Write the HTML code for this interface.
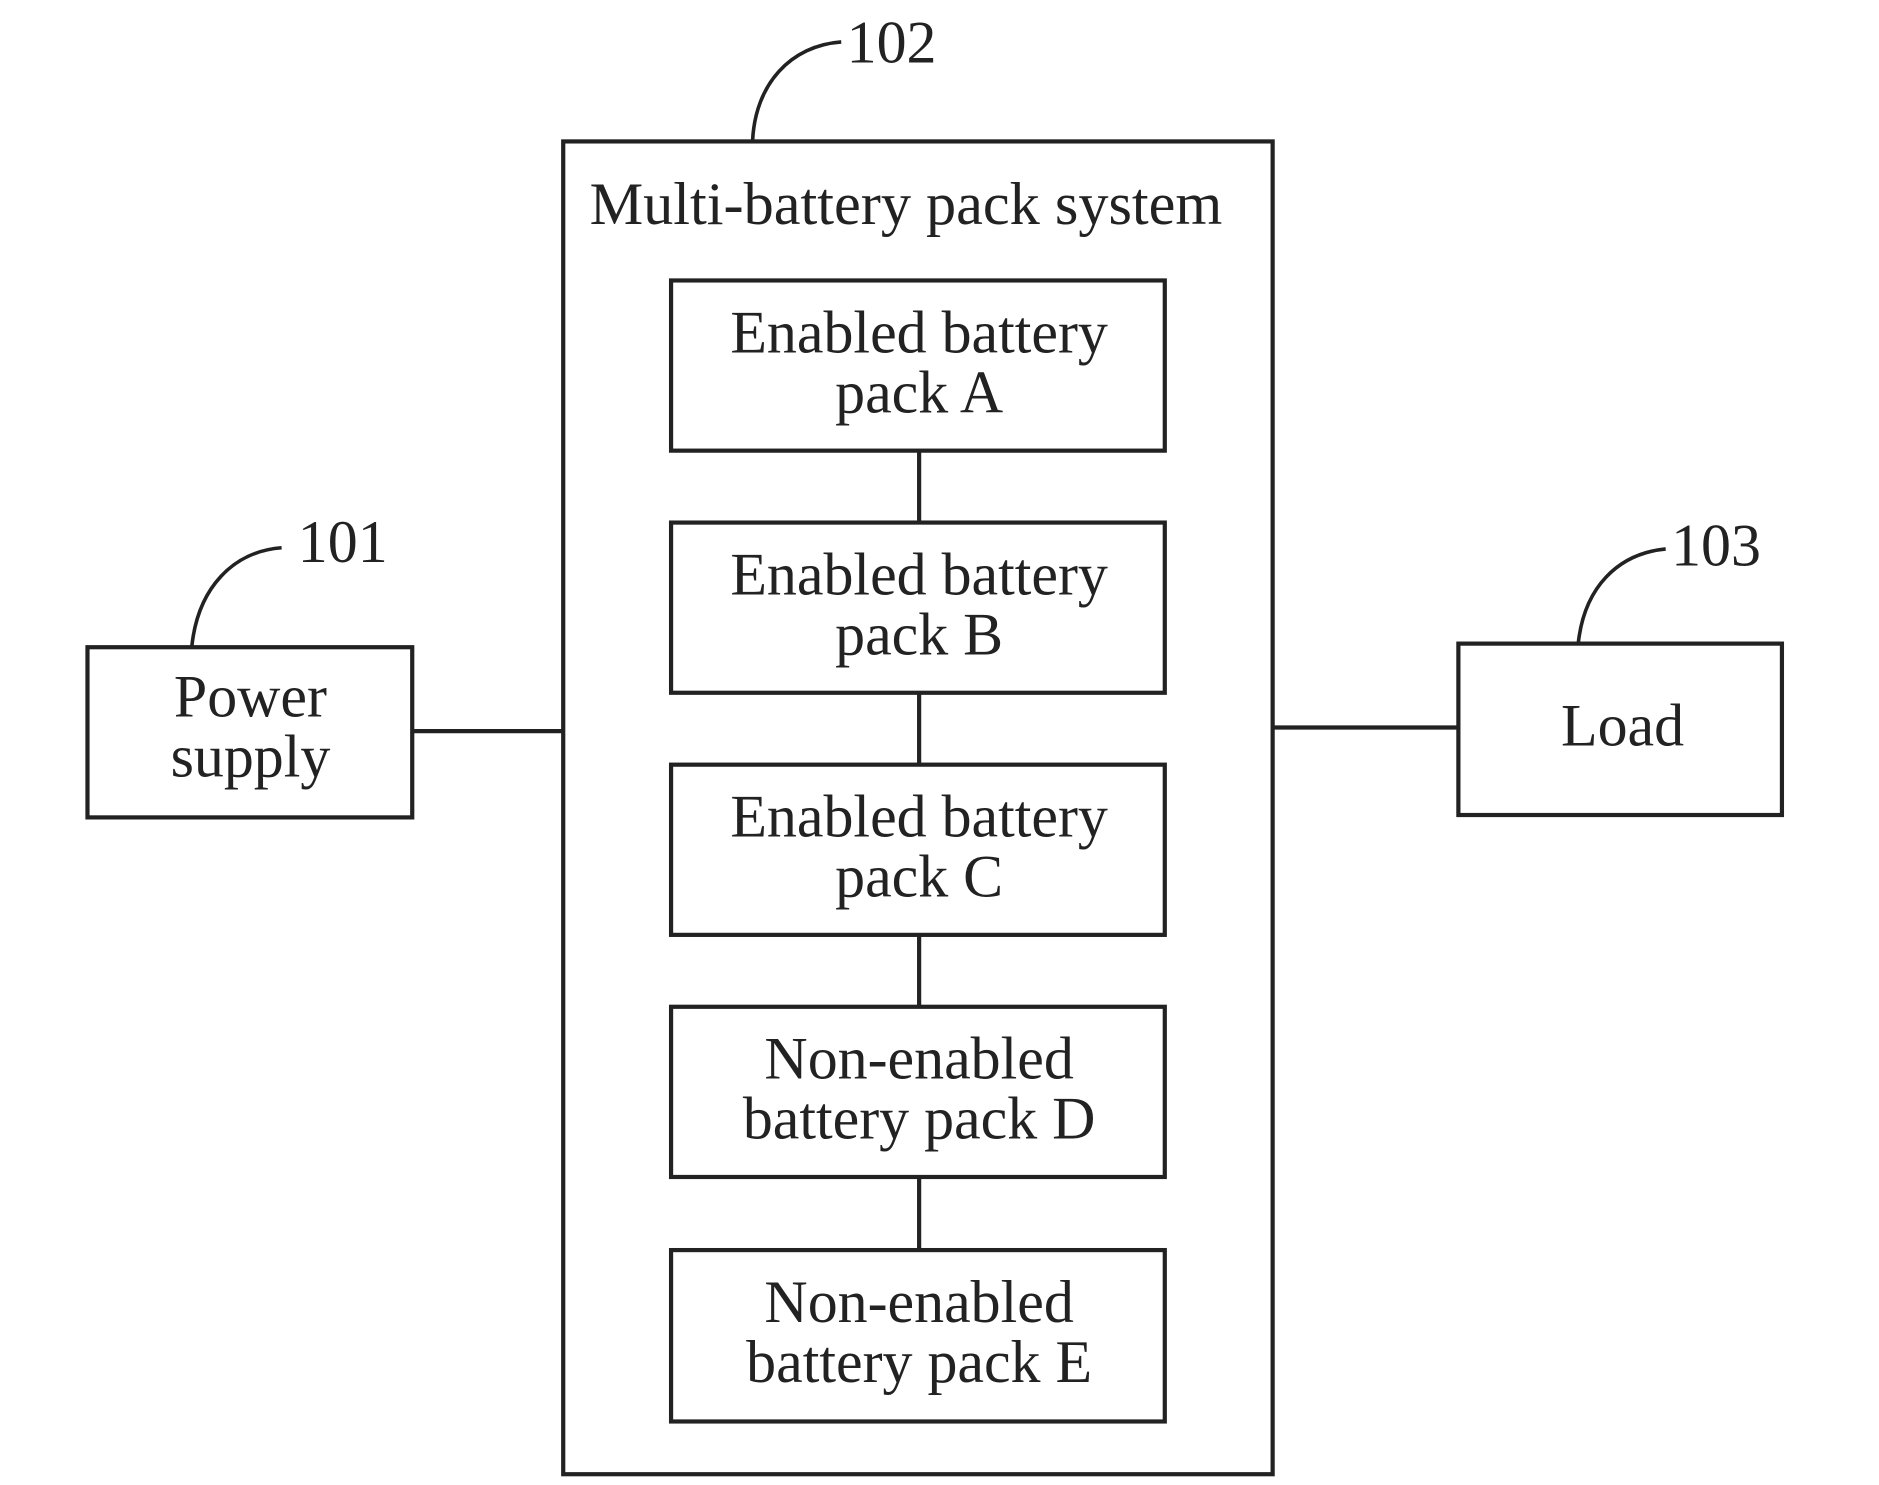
<!DOCTYPE html>
<html><head><meta charset="utf-8"><style>html,body{margin:0;padding:0;background:#fff}svg{display:block}</style></head>
<body>
<svg width="1879" height="1485" viewBox="0 0 1568 1239" preserveAspectRatio="none" xmlns="http://www.w3.org/2000/svg" font-family="Liberation Serif, serif" fill="none" stroke="#222" stroke-width="3.5">
<rect x="470" y="118" width="592" height="1112"/>
<rect x="560" y="234" width="412" height="142"/>
<rect x="560" y="436" width="412" height="142"/>
<rect x="560" y="638" width="412" height="142"/>
<rect x="560" y="840" width="412" height="142"/>
<rect x="560" y="1043" width="412" height="143"/>
<line x1="767" y1="376" x2="767" y2="436"/>
<line x1="767" y1="578" x2="767" y2="638"/>
<line x1="767" y1="780" x2="767" y2="840"/>
<line x1="767" y1="982" x2="767" y2="1043"/>
<rect x="73" y="540" width="271" height="142"/>
<rect x="1217" y="537" width="270" height="143"/>
<line x1="344" y1="610" x2="470" y2="610"/>
<line x1="1062" y1="607" x2="1217" y2="607"/>
<path d="M628 118 C630 70 660 38 702 35" stroke-width="3"/>
<path d="M160 540 C165 490 195 460 235 457" stroke-width="3"/>
<path d="M1317 537 C1322 490 1350 462 1390 458" stroke-width="3"/>
<g fill="#222" stroke="none" font-size="50" text-anchor="middle">
<text x="756" y="187" textLength="528" lengthAdjust="spacingAndGlyphs">Multi-battery pack system</text>
<text x="767" y="294">Enabled battery</text><text x="767" y="344">pack A</text>
<text x="767" y="496">Enabled battery</text><text x="767" y="546">pack B</text>
<text x="767" y="698">Enabled battery</text><text x="767" y="748">pack C</text>
<text x="767" y="900">Non-enabled</text><text x="767" y="950">battery pack D</text>
<text x="767" y="1103">Non-enabled</text><text x="767" y="1153">battery pack E</text>
<text x="209" y="598">Power</text><text x="209" y="648">supply</text>
<text x="1354" y="622">Load</text>
<text x="744" y="52">102</text>
<text x="286" y="469">101</text>
<text x="1432" y="472">103</text>
</g>
</svg>
</body></html>
